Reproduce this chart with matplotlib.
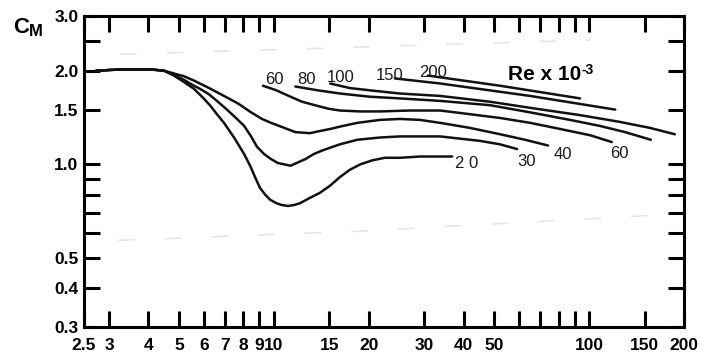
import matplotlib
matplotlib.use('Agg')
import matplotlib.pyplot as plt
from matplotlib.ticker import FixedLocator, FixedFormatter, NullFormatter

plt.rcParams['font.family'] = ['Liberation Sans', 'DejaVu Sans']

# ---------------- data (KC on x, C_M on y) ----------------
plateau_kc = [2.73, 3.25, 4.08, 4.49]
plateau_cm = [2.00, 2.02, 2.02, 2.00]

re20_kc = [4.82, 5.19, 5.58, 5.92, 6.27, 6.60, 6.95, 7.48, 8.05, 8.41, 8.72, 9.04,
           9.38, 9.73, 10.2, 10.6, 11.1, 11.6, 12.1, 13.0, 14.0, 15.1, 16.2, 17.4,
           18.8, 20.5, 22.5, 25.1, 29.1, 36.8]
re20_cm = [1.93, 1.84, 1.75, 1.65, 1.55, 1.45, 1.36, 1.22, 1.08, 0.99, 0.91, 0.84,
           0.80, 0.77, 0.75, 0.74, 0.735, 0.74, 0.75, 0.78, 0.81, 0.855, 0.91, 0.96,
           1.00, 1.03, 1.05, 1.05, 1.06, 1.06]

re30_kc = [4.82, 5.19, 5.58, 5.83, 6.23, 6.60, 7.05, 7.53, 8.05, 8.47, 8.84, 9.31,
           9.80, 10.3, 10.8, 11.3, 11.8, 12.6, 13.4, 14.3, 16.2, 18.4, 21.7, 25.1,
           33.7, 45.1, 52.2, 59.1]
re30_cm = [1.94, 1.87, 1.79, 1.75, 1.68, 1.60, 1.51, 1.42, 1.33, 1.23, 1.14, 1.08,
           1.04, 1.01, 1.00, 0.99, 1.01, 1.04, 1.08, 1.11, 1.16, 1.20, 1.22, 1.23,
           1.23, 1.19, 1.16, 1.12]

re40_kc = [4.82, 5.19, 5.58, 6.23, 6.95, 7.70, 8.47, 9.17, 9.80, 10.8, 11.7, 13.0,
           14.0, 15.1, 16.6, 18.4, 21.7, 25.1, 29.1, 33.7, 41.9, 52.2, 62.6, 74.1]
re40_cm = [1.96, 1.92, 1.86, 1.76, 1.66, 1.57, 1.47, 1.40, 1.36, 1.31, 1.27, 1.26,
           1.28, 1.30, 1.33, 1.36, 1.39, 1.40, 1.39, 1.36, 1.31, 1.25, 1.20, 1.15]

re60_kc = [9.24, 10.2, 11.3, 12.3, 13.5, 14.9, 16.2, 18.8, 21.7, 27.0, 33.7, 41.9,
           52.2, 65.0, 80.9, 101, 118]
re60_cm = [1.79, 1.73, 1.65, 1.59, 1.55, 1.51, 1.49, 1.48, 1.48, 1.49, 1.49, 1.45,
           1.41, 1.36, 1.30, 1.24, 1.18]

re80_kc = [11.7, 13.8, 16.2, 20.2, 25.1, 33.7, 48.5, 65.0, 87.0, 108, 130, 157]
re80_cm = [1.78, 1.73, 1.69, 1.65, 1.63, 1.60, 1.55, 1.47, 1.39, 1.33, 1.27, 1.20]

re100_kc = [15.1, 17.4, 20.2, 25.1, 33.7, 48.5, 65.0, 93.6, 125, 156, 187]
re100_cm = [1.82, 1.76, 1.73, 1.69, 1.66, 1.59, 1.52, 1.44, 1.37, 1.31, 1.25]

re150_kc = [24.2, 33.7, 65.0, 121]
re150_cm = [1.89, 1.82, 1.66, 1.50]

re200_kc = [30.8, 52.2, 93.6]
re200_cm = [1.93, 1.79, 1.63]

# faint scan remnants
faint_top_kc = [3.25, 101]
faint_top_cm = [2.26, 2.51]
faint_low_kc = [3.21, 18.8, 177]
faint_low_cm = [0.57, 0.61, 0.69]

xtick_major = [2.5, 3, 4, 5, 6, 7, 8, 9, 10, 15, 20, 30, 40, 50, 100, 150, 200]
xtick_labels = ['2.5', '3', '4', '5', '6', '7', '8', '9', '10', '15', '20', '30',
                '40', '50', '100', '150', '200']
xtick_minor = [60, 70, 80, 90]
ytick_major = [0.3, 0.4, 0.5, 1.0, 1.5, 2.0, 3.0]
ytick_labels = ['0.3', '0.4', '0.5', '1.0', '1.5', '2.0', '3.0']
ytick_minor = [0.6, 0.7, 0.8, 0.9, 2.5]

# ---------------- figure ----------------
fig = plt.figure(figsize=(7.11, 3.54), dpi=100)
ax = fig.add_axes([84/711, 1-327/354, 600/711, 311/354])
ax.set_xscale('log')
ax.set_yscale('log')
ax.set_xlim(2.5, 200)
ax.set_ylim(0.3, 3.0)

lc = '#111111'
lw = 1.8
kw = dict(color=lc, lw=lw, solid_capstyle='round', solid_joinstyle='round')

ax.plot(faint_top_kc, faint_top_cm, color='#e6e6e6', lw=1.2, ls=(0, (10, 18)))
ax.plot(faint_low_kc, faint_low_cm, color='#e6e6e6', lw=1.2, ls=(0, (10, 18)))

for kc, cm in [(re20_kc, re20_cm), (re30_kc, re30_cm), (re40_kc, re40_cm)]:
    ax.plot(plateau_kc + kc, plateau_cm + cm, **kw)
for kc, cm in [(re60_kc, re60_cm), (re80_kc, re80_cm), (re100_kc, re100_cm),
               (re150_kc, re150_cm), (re200_kc, re200_cm)]:
    ax.plot(kc, cm, **kw)

# ticks
ax.xaxis.set_major_locator(FixedLocator(xtick_major))
ax.xaxis.set_major_formatter(FixedFormatter(xtick_labels))
ax.xaxis.set_minor_locator(FixedLocator(xtick_minor))
ax.xaxis.set_minor_formatter(NullFormatter())
ax.yaxis.set_major_locator(FixedLocator(ytick_major))
ax.yaxis.set_major_formatter(FixedFormatter(ytick_labels))
ax.yaxis.set_minor_locator(FixedLocator(ytick_minor))
ax.yaxis.set_minor_formatter(NullFormatter())

ax.tick_params(which='both', direction='in', length=11.5, width=2.2, color='black',
               top=True, right=True)
ax.tick_params(axis='x', which='major', pad=8.0, labelsize=12.5)
ax.tick_params(axis='y', which='major', pad=4.0, labelsize=12.5)
for lab in ax.get_xticklabels() + ax.get_yticklabels():
    lab.set_fontweight('bold')

for sp in ax.spines.values():
    sp.set_linewidth(2.2)
    sp.set_color('black')

# curve labels
lab_kw = dict(transform=ax.transAxes, fontsize=12, color='#1a1a1a',
              ha='center', va='center')
ax.text(0.318, 0.797, '60', **lab_kw)
ax.text(0.370, 0.797, '80', **lab_kw)
ax.text(0.428, 0.801, '100', **lab_kw)
ax.text(0.510, 0.810, '150', **lab_kw)
ax.text(0.582, 0.817, '200', **lab_kw)
ax.text(0.638, 0.527, '2 0', **lab_kw)
ax.text(0.737, 0.531, '30', **lab_kw)
ax.text(0.798, 0.556, '40', **lab_kw)
ax.text(0.893, 0.559, '60', **lab_kw)

# Re x 10^-3
fig.text(508/711, 1-80/354, 'Re x 10', fontsize=15, fontweight='bold',
         ha='left', va='baseline')
fig.text(581/711, 1-74/354, '-3', fontsize=10, fontweight='bold',
         ha='left', va='baseline')

# C_M
fig.text(13/711, 1-33/354, 'C', fontsize=16, fontweight='bold', ha='left', va='baseline')
fig.text(29/711, 1-36/354, 'M', fontsize=12, fontweight='bold', ha='left', va='baseline')

fig.savefig('out.png', dpi=100)
